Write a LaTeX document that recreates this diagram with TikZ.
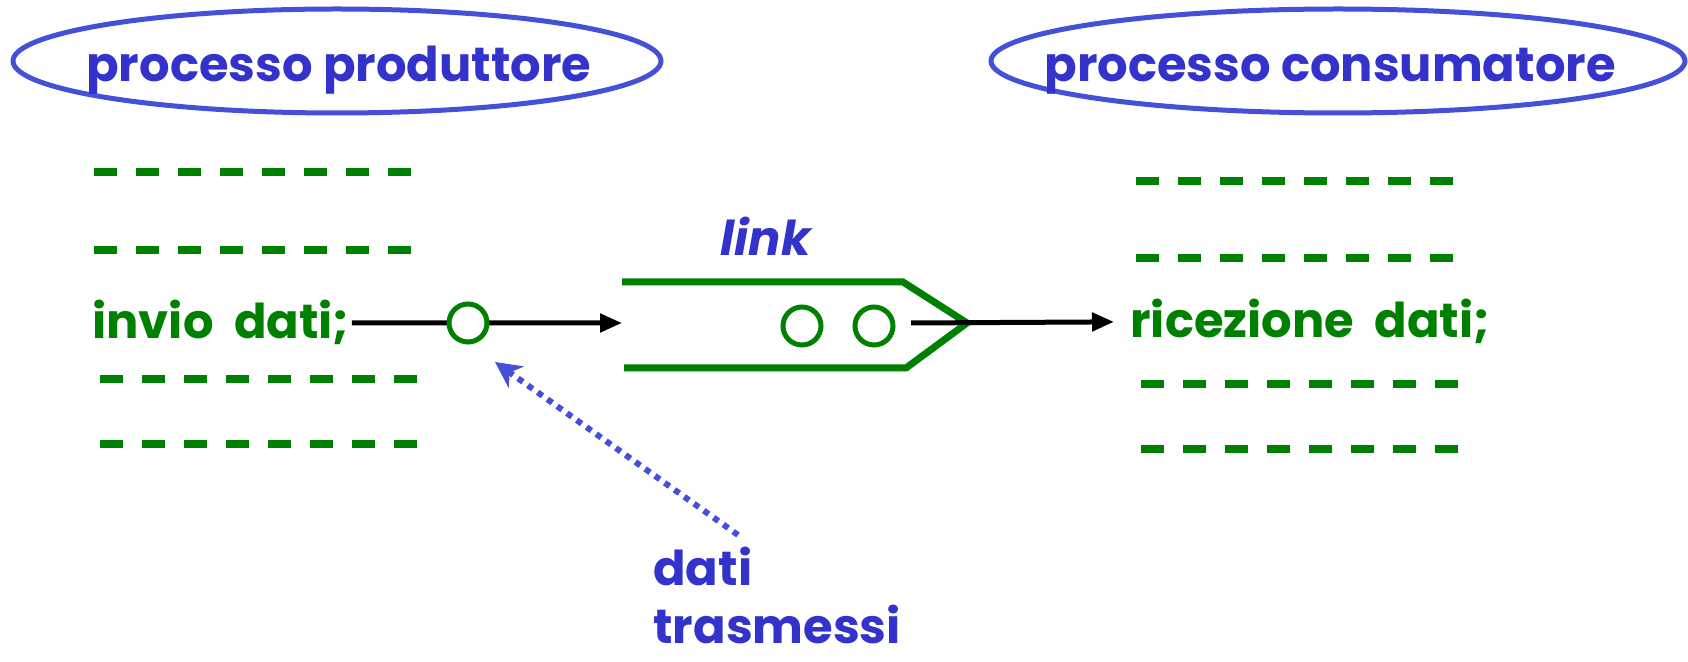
\documentclass[tikz,border=0pt]{standalone}
\usepackage{fontspec}
\setmainfont{Poppins}
\newfontfamily\codefont[WordSpace=2]{Poppins}
\usetikzlibrary{arrows.meta,shapes.geometric}
\definecolor{tblue}{RGB}{51,51,204}
\definecolor{eblue}{RGB}{68,80,216}
\definecolor{dgreen}{RGB}{0,128,0}
\tikzset{
  proc/.style={draw=eblue, line width=2.5pt, ellipse, inner sep=0pt},
  title/.style={text=tblue, font=\fontsize{24}{28}\selectfont\bfseries, inner sep=0pt, anchor=base west},
  code/.style={text=dgreen, font=\codefont\fontsize{24}{28}\selectfont\bfseries, inner sep=0pt, anchor=base west},
  note/.style={text=tblue, font=\fontsize{24}{28}\selectfont\bfseries, inner sep=0pt, anchor=base west, align=left},
  dashrow/.style={draw=dgreen, line width=4pt, dash pattern=on 11.5pt off 9.5pt},
  msg/.style={circle, draw=dgreen, line width=2.5pt, fill=white, minimum size=19pt, inner sep=0pt},
  flow/.style={draw=black, line width=2.5pt, -{Triangle[length=11pt,width=9pt]}},
  hint/.style={draw=eblue, line width=3pt, dash pattern=on 3pt off 3pt, -{Stealth[length=13pt,width=13pt,inset=4pt]}},
  pipe/.style={draw=dgreen, line width=3.5pt}
}
\begin{document}
\begin{tikzpicture}[x=0.5pt,y=-0.5pt]
  \useasboundingbox (0,0) rectangle (1688,662);

  % processes
  \node[proc, minimum width=324pt, minimum height=52pt] (prod) at (337,61) {};
  \node[title] (prodtxt) at (86,82) {processo produttore};
  \node[proc, minimum width=347pt, minimum height=52pt] (cons) at (1338,61) {};
  \node[title] (constxt) at (1044,82) {processo consumatore};

  % producer code
  \draw[dashrow] (94,172) -- ++(317,0);
  \draw[dashrow] (94,250) -- ++(317,0);
  \node[code] (send) at (92,339) {invio dati;};
  \draw[dashrow] (100,379) -- ++(317,0);
  \draw[dashrow] (100,444) -- ++(317,0);

  % consumer code
  \draw[dashrow] (1136,181) -- ++(317,0);
  \draw[dashrow] (1136,258) -- ++(317,0);
  \node[code] (recv) at (1130,338) {ricezione dati;};
  \draw[dashrow] (1141,384) -- ++(317,0);
  \draw[dashrow] (1141,449) -- ++(317,0);

  % link
  \node[text=tblue, font=\fontsize{24}{28}\selectfont\bfseries\itshape, inner sep=0pt, anchor=base west] (lnk) at (720,256) {link};
  \coordinate (lnkin) at (622,323);
  \coordinate (lnkout) at (911,323);
  \draw[pipe] (622,282) -- (903,282) -- (967,323) -- (906,368) -- (624,368);
  \node[msg] (q1) at (802,326) {};
  \node[msg] (q2) at (874,326) {};

  % data flow
  \draw[flow] ([xshift=1pt]send.east) -- (lnkin);
  \node[msg] (m) at (468,323) {};
  \draw[flow] (lnkout) -- ([xshift=-8pt]recv.west);

  % annotation
  \node[note] (dati) at (653,586) {dati};
  \node[note] (tras) at (653,644) {trasmessi};
  \coordinate (hintfrom) at (738,535);
  \draw[hint] (hintfrom) -- ([shift={(27,39)}]m.center);
\end{tikzpicture}
\end{document}
